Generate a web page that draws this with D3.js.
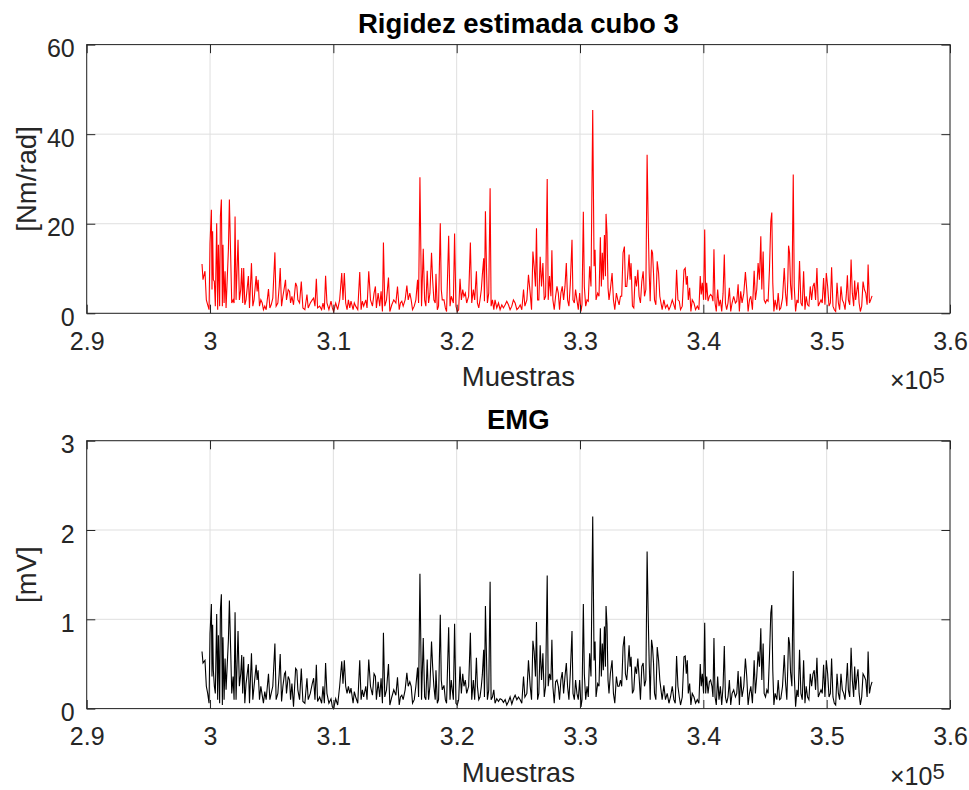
<!DOCTYPE html>
<meta charset="utf-8">
<title>Rigidez estimada cubo 3</title>
<script src="https://cdn.jsdelivr.net/npm/d3@7"></script>
<style>
  body { margin: 0; background: #fff; }
  svg text { font-family: "Liberation Sans", Arial, Helvetica, sans-serif; fill: #262626; }
</style>
<body>
<script>

// samples (x axis)
var muestras = [
  299350, 299430, 299590, 299700, 299810, 299920, 300000, 300110, 300160, 300210,
  300270, 300350, 300430, 300540, 300620, 300680, 300780, 300840, 300920, 301000,
  301050, 301140, 301220, 301300, 301490, 301570, 301680, 301760, 301870, 301950,
  302030, 302110, 302270, 302380, 302490, 302570, 302650, 302730, 302820, 302920,
  303110, 303200, 303360, 303470, 303570, 303740, 303820, 303900, 304010, 304120,
  304230, 304330, 304440, 304550, 304740, 304850, 304960, 305090, 305260, 305360,
  305500, 305610, 305690, 305800, 305910, 306040, 306120, 306200, 306340, 306450,
  306530, 306640, 306770, 306940, 307040, 307120, 307260, 307400, 307530, 307690,
  307860, 307960, 308130, 308290, 308400, 308510, 308620, 308720, 308890, 309050,
  309160, 309270, 309370, 309480, 309640, 309810, 309920, 310020, 310190, 310350,
  310510, 310680, 310780, 310890, 311000, 311110, 311220, 311330, 311430, 311600,
  311700, 311810, 311980, 312140, 312250, 312350, 312460, 312630, 312730, 312870,
  313010, 313170, 313300, 313410, 313490, 313630, 313760, 313870, 313980, 314060,
  314170, 314310, 314470, 314580, 314740, 314900, 315070, 315200, 315340, 315440,
  315550, 315660, 315820, 315960, 316070, 316200, 316310, 316420, 316560, 316690,
  316830, 316910,
  317020, 317150, 317290, 317400, 317500, 317610, 317720, 317830, 317960, 318050,
  318150, 318260, 318320, 318430, 318530, 318670, 318750, 318830, 318970, 319080,
  319180, 319350, 319460, 319560, 319730, 319830, 319940, 320050, 320160, 320270,
  320380, 320490, 320590, 320700, 320810, 320970, 321110, 321220, 321350, 321460,
  321600, 321680, 321790, 321890, 322000, 322080, 322190, 322250, 322330, 322410,
  322490, 322600, 322710, 322790, 322900, 323010, 323110, 323250, 323390, 323520,
  323660, 323790, 323930, 324060, 324200, 324330, 324470, 324600, 324740, 324880,
  325010, 325150, 325280, 325420, 325530, 325690, 325820, 325960, 326070, 326180,
  326280, 326390, 326470, 326560, 326660, 326770, 326880, 326990, 327100, 327210,
  327340, 327420, 327530, 327640, 327720, 327800, 327910, 328020, 328130, 328240,
  328340, 328450, 328560, 328670, 328780, 328890, 328990, 329100, 329210, 329350,
  329430, 329540, 329640, 329750, 329860, 329970, 330080, 330160, 330270, 330350,
  330460, 330570, 330670, 330780, 330890, 331030, 331140, 331220, 331300, 331430,
  331540, 331650, 331730, 331810, 331890, 331980, 332060, 332110, 332190, 332270,
  332350, 332460, 332600, 332710, 332820, 332950, 333060, 333170, 333280, 333380,
  333490, 333600, 333680, 333790, 333870, 333980, 334060, 334140, 334250, 334360,
  334470, 334580, 334690, 334790, 334900, 335010, 335120, 335230, 335340, 335440,
  335530, 335610, 335690, 335800, 335880, 335960, 336040, 336150, 336260, 336370,
  336470,
  336660, 336800, 336930, 337070, 337210, 337340, 337480, 337610, 337720, 337830,
  337940, 338050, 338150, 338290, 338430, 338530, 338620, 338700, 338780, 338890,
  338990, 339100, 339240, 339370, 339510, 339640, 339750, 339830, 339920, 340020,
  340110, 340190, 340270, 340380, 340490, 340590, 340700, 340780, 340860, 340950,
  341050, 341160, 341270, 341380, 341490, 341600, 341700, 341790, 341890, 342000,
  342110, 342220, 342330, 342460, 342600, 342710, 342820, 342920, 343030, 343140,
  343280, 343410, 343520, 343630, 343740, 343850, 343980, 344120, 344220, 344330,
  344440, 344550, 344660, 344740, 344850, 344930, 345040, 345150, 345250, 345360,
  345470, 345550, 345630, 345720, 345820, 345960, 346070, 346180, 346280, 346420,
  346560, 346660, 346770, 346850, 346910, 346990, 347070, 347180, 347290, 347370,
  347480, 347590, 347690, 347800, 347910, 348020, 348130, 348240, 348340, 348450,
  348560, 348670, 348780, 348890, 348990, 349100, 349210, 349320, 349430, 349540,
  349640, 349750, 349860, 349970, 350080, 350190, 350300, 350400, 350510, 350620,
  350730, 350840, 350950, 351050, 351160, 351270, 351380, 351490, 351600, 351680,
  351760, 351870, 351980, 352080, 352190, 352270, 352350, 352460, 352540, 352630,
  352730, 352840, 352950, 353060, 353170, 353280, 353360, 353470, 353570, 353680
];

// stiffness [Nm/rad]
var rigidez = [
  11.0, 7.5, 9.4, 3.0, 1.9, 0.8, 15.7, 23.1, 5.3, 18.3,
  7.5, 7.1, 1.6, 20.1, 0.8, 15.3, 1.6, 21.6, 25.4, 1.6,
  15.3, 2.3, 9.4, 1.2, 14.2, 25.4, 12.0, 2.3, 3.0, 2.3,
  21.6, 3.0, 16.4, 3.0, 5.3, 10.1, 2.3, 10.1, 1.9, 3.0,
  8.3, 1.2, 11.2, 1.6, 3.0, 8.3, 4.9, 7.5, 1.6, 3.0,
  2.3, 0.8, 1.6, 0.8, 5.4, 1.2, 1.9, 3.4, 13.6, 1.6,
  2.3, 6.0, 10.1, 1.6, 3.8, 6.0, 7.5, 3.0, 5.3, 4.9,
  2.3, 3.8, 1.9, 6.8, 6.0, 3.0, 2.3, 7.1, 1.2, 0.8,
  4.2, 1.2, 2.3, 3.0, 3.4, 1.6, 7.7, 1.2, 1.6, 0.8,
  2.3, 0.8, 8.4, 2.3, 0.8, 2.7, 1.2, 0.4, 2.3, 0.8,
  3.0, 9.0, 3.0, 9.0, 2.3, 0.8, 3.0, 1.2, 2.7, 0.8,
  2.3, 1.6, 0.8, 9.2, 0.8, 2.7, 1.6, 3.0, 1.2, 9.4,
  3.0, 1.6, 4.5, 6.0, 1.2, 4.5, 1.6, 4.9, 0.4, 15.8,
  1.6, 3.0, 8.0, 0.4, 1.9, 3.0, 2.3, 6.0, 0.8, 2.3,
  2.7, 1.6, 3.0, 6.2, 3.0, 4.5, 3.0, 0.8, 1.6, 3.0,
  7.5, 2.3,
  30.4, 1.6, 14.4, 3.0, 1.6, 9.5, 2.3, 4.5, 13.5, 7.5,
  3.0, 2.3, 8.8, 0.8, 1.6, 20.1, 5.3, 3.0, 3.0, 1.2,
  0.4, 17.3, 1.6, 3.8, 2.3, 17.8, 1.6, 0.4, 0.8, 7.7,
  3.0, 5.3, 3.8, 4.5, 2.3, 3.8, 15.8, 2.3, 5.3, 3.0,
  9.4, 2.3, 1.2, 3.0, 5.3, 8.6, 12.3, 2.7, 22.8, 10.9,
  2.3, 4.5, 27.9, 1.6, 3.0, 0.8, 3.0, 1.2, 2.3, 0.8,
  1.9, 1.2, 1.9, 2.7, 1.9, 0.8, 1.6, 3.0, 2.3, 0.8,
  1.2, 1.9, 0.8, 5.3, 1.6, 3.0, 8.6, 4.5, 0.8, 13.8,
  10.5, 6.0, 19.0, 3.0, 3.0, 12.6, 6.0, 11.2, 3.0, 3.8,
  30.0, 3.0, 8.3, 3.8, 14.1, 3.0, 0.8, 3.8, 6.0, 4.5,
  0.8, 4.5, 6.0, 3.0, 6.0, 11.2, 3.0, 1.6, 6.4, 16.4,
  3.0, 2.3, 5.3, 3.0, 0.8, 4.5, 0.4, 1.9, 22.7, 6.0,
  1.6, 3.0, 2.7, 10.5, 6.0, 45.4, 10.5, 14.2, 3.0, 4.5,
  3.8, 17.0, 6.0, 13.5, 7.5, 17.5, 8.3, 22.2, 17.9, 5.7,
  3.0, 5.3, 9.0, 3.0, 0.8, 4.5, 3.0, 1.9, 3.8, 3.8,
  13.5, 14.9, 6.0, 6.0, 8.6, 13.1, 7.5, 11.2, 1.6, 1.2,
  8.3, 6.0, 9.7, 3.8, 2.3, 7.1, 9.4, 3.8, 5.3, 35.4,
  19.8, 9.0, 2.7, 14.2, 13.5, 9.0, 3.0, 1.9, 11.6, 9.0,
  3.8,
  0.8, 3.0, 1.2, 1.9, 0.8, 1.6, 3.0, 1.9, 0.8, 9.7,
  3.0, 2.7, 0.8, 1.6, 9.7, 10.1, 6.4, 8.3, 3.0, 5.7,
  0.4, 3.0, 2.3, 0.8, 1.6, 0.8, 8.3, 4.2, 6.8, 3.0,
  18.7, 3.0, 6.8, 2.7, 3.8, 4.2, 3.8, 2.7, 14.3, 2.3,
  0.4, 5.3, 1.6, 3.0, 0.4, 4.5, 13.1, 2.3, 0.8, 2.3,
  5.7, 0.4, 2.3, 3.8, 2.3, 2.7, 6.5, 0.4, 4.9, 2.3,
  4.5, 9.2, 5.3, 0.4, 3.0, 3.8, 0.8, 9.5, 3.0, 5.3,
  11.2, 7.5, 17.2, 5.3, 13.8, 3.0, 2.3, 3.0, 2.7, 9.7,
  20.5, 22.5, 6.8, 0.4, 3.0, 0.8, 4.5, 0.8, 1.2, 3.4,
  10.1, 4.5, 1.6, 7.5, 15.1, 13.5, 6.4, 3.0, 31.0, 6.0,
  0.4, 3.0, 2.3, 11.7, 2.3, 1.6, 9.4, 0.8, 3.8, 1.9,
  1.6, 6.0, 3.0, 6.0, 6.8, 3.0, 10.1, 1.6, 2.3, 3.0,
  2.3, 7.9, 1.9, 9.0, 6.0, 1.6, 2.3, 10.3, 1.6, 0.8,
  0.4, 6.8, 2.3, 0.8, 6.0, 3.0, 2.3, 0.8, 4.5, 8.5,
  3.0, 1.9, 12.0, 4.5, 1.6, 7.3, 3.0, 5.3, 6.9, 2.3,
  0.4, 1.6, 7.1, 5.3, 4.5, 1.9, 10.9, 2.3, 3.0, 3.9
];

// EMG [mV]
var emg = [
  0.64, 0.51, 0.54, 0.25, 0.17, 0.06, 0.84, 1.17, 0.36, 0.94,
  0.43, 0.25, 0.17, 1.06, 0.10, 0.82, 0.06, 1.10, 1.28, 0.04,
  0.80, 0.10, 0.56, 0.21, 0.77, 1.21, 0.62, 0.17, 0.36, 0.10,
  1.08, 0.10, 0.87, 0.25, 0.39, 0.60, 0.17, 0.58, 0.06, 0.28,
  0.50, 0.06, 0.62, 0.10, 0.25, 0.49, 0.32, 0.43, 0.10, 0.25,
  0.15, 0.06, 0.19, 0.10, 0.39, 0.10, 0.17, 0.25, 0.73, 0.10,
  0.17, 0.39, 0.61, 0.08, 0.25, 0.39, 0.41, 0.17, 0.36, 0.32,
  0.10, 0.28, 0.02, 0.45, 0.43, 0.21, 0.10, 0.45, 0.08, 0.06,
  0.34, 0.10, 0.17, 0.28, 0.34, 0.10, 0.49, 0.08, 0.13, 0.06,
  0.25, 0.06, 0.51, 0.17, 0.06, 0.11, 0.02, 0.00, 0.11, 0.04,
  0.25, 0.53, 0.28, 0.54, 0.25, 0.17, 0.25, 0.17, 0.23, 0.06,
  0.19, 0.13, 0.06, 0.54, 0.10, 0.21, 0.13, 0.25, 0.10, 0.55,
  0.25, 0.15, 0.39, 0.36, 0.10, 0.30, 0.13, 0.34, 0.06, 0.85,
  0.13, 0.21, 0.50, 0.04, 0.13, 0.21, 0.15, 0.35, 0.04, 0.13,
  0.15, 0.10, 0.21, 0.40, 0.25, 0.30, 0.25, 0.06, 0.10, 0.25,
  0.46, 0.13,
  1.51, 0.10, 0.79, 0.13, 0.10, 0.55, 0.10, 0.25, 0.75, 0.47,
  0.25, 0.10, 0.43, 0.06, 0.10, 1.05, 0.32, 0.21, 0.26, 0.10,
  0.06, 0.91, 0.10, 0.32, 0.10, 0.95, 0.06, 0.04, 0.10, 0.47,
  0.17, 0.39, 0.25, 0.32, 0.17, 0.25, 0.85, 0.10, 0.32, 0.10,
  0.57, 0.25, 0.10, 0.13, 0.25, 0.38, 0.66, 0.13, 1.15, 0.62,
  0.10, 0.21, 1.42, 0.10, 0.13, 0.21, 0.06, 0.11, 0.08, 0.11,
  0.10, 0.07, 0.10, 0.04, 0.08, 0.13, 0.05, 0.11, 0.15, 0.10,
  0.13, 0.10, 0.06, 0.36, 0.13, 0.17, 0.54, 0.25, 0.10, 0.76,
  0.64, 0.36, 0.97, 0.10, 0.17, 0.71, 0.32, 0.62, 0.13, 0.25,
  1.49, 0.25, 0.39, 0.32, 0.77, 0.25, 0.06, 0.30, 0.32, 0.25,
  0.10, 0.32, 0.41, 0.17, 0.36, 0.51, 0.25, 0.10, 0.39, 0.87,
  0.17, 0.10, 0.32, 0.17, 0.10, 0.32, 0.02, 0.10, 1.17, 0.39,
  0.10, 0.25, 0.13, 0.62, 0.36, 2.15, 0.54, 0.75, 0.13, 0.28,
  0.25, 0.90, 0.36, 0.73, 0.43, 0.92, 0.47, 1.15, 0.94, 0.32,
  0.17, 0.39, 0.54, 0.17, 0.06, 0.36, 0.25, 0.25, 0.32, 0.25,
  0.69, 0.81, 0.39, 0.32, 0.47, 0.71, 0.47, 0.58, 0.17, 0.21,
  0.47, 0.39, 0.56, 0.36, 0.10, 0.47, 0.51, 0.25, 0.32, 1.76,
  1.03, 0.51, 0.10, 0.77, 0.69, 0.51, 0.17, 0.10, 0.69, 0.54,
  0.32,
  0.10, 0.26, 0.10, 0.17, 0.06, 0.13, 0.25, 0.10, 0.06, 0.59,
  0.25, 0.13, 0.04, 0.13, 0.58, 0.59, 0.39, 0.54, 0.17, 0.28,
  0.04, 0.17, 0.13, 0.06, 0.10, 0.06, 0.50, 0.25, 0.39, 0.17,
  0.96, 0.17, 0.36, 0.17, 0.30, 0.32, 0.25, 0.13, 0.79, 0.13,
  0.04, 0.36, 0.10, 0.25, 0.04, 0.25, 0.70, 0.13, 0.06, 0.13,
  0.32, 0.04, 0.17, 0.21, 0.13, 0.17, 0.42, 0.04, 0.36, 0.13,
  0.25, 0.56, 0.36, 0.04, 0.17, 0.25, 0.06, 0.54, 0.17, 0.36,
  0.64, 0.47, 0.90, 0.32, 0.73, 0.17, 0.13, 0.21, 0.17, 0.58,
  1.07, 1.16, 0.43, 0.04, 0.17, 0.10, 0.32, 0.10, 0.11, 0.25,
  0.60, 0.30, 0.10, 0.47, 0.80, 0.73, 0.41, 0.25, 1.54, 0.39,
  0.02, 0.21, 0.13, 0.66, 0.17, 0.10, 0.54, 0.06, 0.25, 0.13,
  0.10, 0.39, 0.25, 0.39, 0.43, 0.21, 0.57, 0.13, 0.17, 0.21,
  0.17, 0.49, 0.13, 0.54, 0.39, 0.13, 0.17, 0.56, 0.13, 0.06,
  0.04, 0.39, 0.17, 0.10, 0.39, 0.21, 0.17, 0.10, 0.32, 0.51,
  0.21, 0.13, 0.68, 0.32, 0.13, 0.47, 0.21, 0.36, 0.44, 0.17,
  0.04, 0.13, 0.39, 0.36, 0.32, 0.13, 0.64, 0.17, 0.25, 0.30
];

var xTicks = [290000, 300000, 310000, 320000, 330000, 340000, 350000, 360000];
var yTicksRigidez = [0, 20, 40, 60];
var yTicksEmg = [0, 1, 2, 3];

if (muestras.length != rigidez.length || muestras.length != emg.length)
  console.warn("lengths", muestras.length, rigidez.length, emg.length);

var svg_w = 969
   ,svg_h = 790
   ,ax_left = 86.7
   ,ax_right = 950
   ,tick_len = 8.6;

var svg = d3.select("body").append("svg")
            .attr("width", svg_w)
            .attr("height", svg_h);

var x = d3.scaleLinear().domain([290000, 360000]).range([ax_left, ax_right]);

var drawPanel = function(opts) {
  var y = d3.scaleLinear().domain(opts.yDomain).range([opts.bottom, opts.top]);
  var g = svg.append("g");
  var h = opts.bottom - opts.top;

  // grid
  g.selectAll(".gx").data(xTicks).enter().append("line")
    .attr("x1", function (d) { return x(d) }).attr("x2", function (d) { return x(d) })
    .attr("y1", opts.top).attr("y2", opts.bottom)
    .attr("stroke", "#dfdfdf").attr("stroke-width", 1);
  g.selectAll(".gy").data(opts.yTicks).enter().append("line")
    .attr("x1", ax_left).attr("x2", ax_right)
    .attr("y1", function (d) { return y(d) }).attr("y2", function (d) { return y(d) })
    .attr("stroke", "#dfdfdf").attr("stroke-width", 1);

  // signal
  var line = d3.line()
    .x(function (d, i) { return x(muestras[i]) })
    .y(function (d) { return y(d) });
  g.append("path")
    .datum(opts.values)
    .attr("fill", "none")
    .attr("stroke", opts.color)
    .attr("stroke-width", 1.1)
    .attr("d", line);

  // axes, ticks inward on all four sides
  var xb = d3.axisBottom(x).tickValues(xTicks).tickSizeInner(-tick_len).tickSizeOuter(0).tickPadding(19)
    .tickFormat(function (d) { return (d / 1e5).toFixed(1).replace(/\.0$/, "") });
  var xt = d3.axisTop(x).tickValues(xTicks).tickSizeInner(-tick_len).tickSizeOuter(0).tickFormat("");
  var yl = d3.axisLeft(y).tickValues(opts.yTicks).tickSizeInner(-tick_len).tickSizeOuter(0).tickPadding(12)
    .tickFormat(function (d) { return String(d) });
  var yr = d3.axisRight(y).tickValues(opts.yTicks).tickSizeInner(-tick_len).tickSizeOuter(0).tickFormat("");

  [[xb, "translate(0," + opts.bottom + ")"], [xt, "translate(0," + opts.top + ")"],
   [yl, "translate(" + ax_left + ",0)"], [yr, "translate(" + ax_right + ",0)"]].forEach(function (a) {
    var ag = g.append("g").attr("transform", a[1]).call(a[0]);
    ag.select(".domain").remove();
    ag.selectAll("line").attr("stroke", "#262626");
    ag.selectAll("text").attr("fill", "#262626").style("font-size", "25px")
      .style("font-family", '"Liberation Sans", Arial, Helvetica, sans-serif');
  });
  g.selectAll("g text").filter(function () { return this.getAttribute("dy") == "0.32em" }).attr("dy", "0.48em");

  g.append("rect")
    .attr("x", ax_left).attr("y", opts.top)
    .attr("width", ax_right - ax_left).attr("height", h)
    .attr("fill", "none").attr("stroke", "#262626").attr("stroke-width", 1);

  // labels
  g.append("text")
    .attr("x", (ax_left + ax_right) / 2).attr("y", opts.top - 12)
    .attr("text-anchor", "middle")
    .style("font-size", "27.5px").style("font-weight", "bold").style("fill", "#000")
    .text(opts.title);
  g.append("text")
    .attr("x", (ax_left + ax_right) / 2).attr("y", opts.bottom + 73)
    .attr("text-anchor", "middle")
    .style("font-size", "27.5px")
    .text("Muestras");
  g.append("text")
    .attr("transform", "translate(36," + (opts.top + h / 2) + ") rotate(-90)")
    .attr("text-anchor", "middle")
    .style("font-size", "27.5px")
    .text(opts.ylabel);
  var ex = g.append("text")
    .attr("x", 890).attr("y", opts.bottom + 76)
    .style("font-size", "25px");
  ex.append("tspan").text("\u00d710");
  ex.append("tspan").attr("dy", -6).style("font-size", "22px").text("5");
}

drawPanel({ top: 44.6, bottom: 313.3, yDomain: [0, 60], yTicks: yTicksRigidez,
            values: rigidez, color: "#ff0000", title: "Rigidez estimada cubo 3", ylabel: "[Nm/rad]" });
drawPanel({ top: 440.7, bottom: 708.6, yDomain: [0, 3], yTicks: yTicksEmg,
            values: emg, color: "#000000", title: "EMG", ylabel: "[mV]" });

</script>
